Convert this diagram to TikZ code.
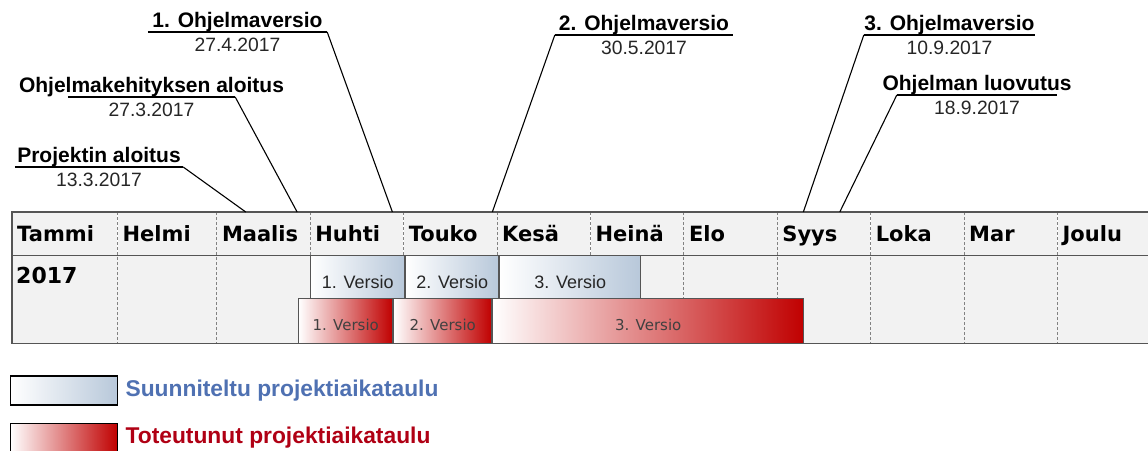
\documentclass[tikz,border=0pt]{standalone}
\usepackage{fontspec}
\setmainfont{Liberation Sans}
\newfontfamily\monthfont{DejaVu Sans}
\usetikzlibrary{positioning, calc}
\definecolor{cellgray}{RGB}{242,242,242}
\definecolor{gridgray}{RGB}{85,85,85}
\definecolor{sepgray}{RGB}{130,130,130}
\definecolor{planblue}{RGB}{184,200,218}
\definecolor{donered}{RGB}{192,0,0}
\definecolor{plantext}{RGB}{79,113,178}
\definecolor{donetext}{RGB}{176,0,20}

\begin{document}
\begin{tikzpicture}[x=1pt, y=1pt,
  month/.style={fill=cellgray, text width=#1, minimum height=43pt, inner xsep=5pt, inner ysep=0pt, text height=15.5pt, text depth=0pt, align=left, font=\monthfont\bfseries\fontsize{21}{21}\selectfont},
  monthsep/.style={sepgray, line width=.8pt, dash pattern=on 3pt off 2pt},
  planbar/.style={draw=gridgray, line width=1pt, left color=white, right color=planblue, minimum width=#1, minimum height=43pt, inner sep=0pt, text height=22pt, text depth=0pt, text=black!85, font=\fontsize{18}{18}\selectfont},
  donebar/.style={draw=gridgray, line width=1pt, left color=white, right color=donered, minimum width=#1, minimum height=45pt, inner sep=0pt, text height=19pt, text depth=0pt, text=black!75, font=\monthfont\fontsize{15}{15}\selectfont},
  msdate/.style={anchor=north, inner xsep=0pt, inner ysep=5pt, text height=14pt, text depth=0pt, text=black!85, font=\fontsize{19.3}{19.3}\selectfont},
  mstitle/.style={inner sep=0pt, font=\bfseries\fontsize{21}{21}\selectfont},
  leaderline/.style={line width=1.1pt},
  legbox/.style={draw=black, line width=1.4pt, minimum width=107pt, minimum height=29pt, inner sep=0pt},
  legtext/.style={inner sep=0pt, font=\bfseries\fontsize{22.8}{22.8}\selectfont}]

\useasboundingbox (0,0) rectangle (1148,-450);

\newcommand*{\milestone}[5]{%
  \node [msdate, minimum width=#3] (#1) at (#2) {#5};
  \draw [leaderline] (#1.north west) -- (#1.north east);
  \node [mstitle, above=5pt of #1.north, anchor=base] (#1title) {#4};}

% MONTHS

\node [month=95pt, anchor=north west] (tammi) at (12,-212) {Tammi};
\node [month=89pt, right=0pt of tammi] (helmi) {Helmi};
\foreach \prev/\name/\lbl in {helmi/maalis/Maalis, maalis/huhti/Huhti, huhti/touko/Touko,
    touko/kesa/Kesä, kesa/heina/Heinä, heina/elo/Elo, elo/syys/Syys, syys/loka/Loka,
    loka/mar/Mar, mar/joulu/Joulu}
  \node [month=83pt, right=0pt of \prev] (\name) {\lbl};

\coordinate (rowstart) at ($(tammi.south west)+(0,-88)$);
\coordinate (rowend) at ($(joulu.south east)+(0,-88)$);
\fill [cellgray] (tammi.south west) rectangle (rowend);

\node [anchor=base west, inner sep=0pt, font=\monthfont\bfseries\fontsize{22}{22}\selectfont] (year) at ($(tammi.south west)+(4,-28)$) {2017};

\foreach \name in {helmi, maalis, huhti, touko, kesa, heina, elo, syys, loka, mar, joulu}
  \draw [monthsep] (\name.north west) -- (\name.north west |- rowend);

% PLANNED AND ACTUAL VERSIONS

\node [planbar=94pt, below=0pt of huhti.south west, anchor=north west] (plan1) {1. Versio};
\node [planbar=93pt, right=0pt of plan1] (plan2) {2. Versio};
\node [planbar=141pt, right=0pt of plan2] (plan3) {3. Versio};

\node [donebar=94pt, below=43pt of huhti.south west, anchor=north west, xshift=-12pt] (done1) {1. Versio};
\node [donebar=98pt, right=0pt of done1] (done2) {2. Versio};
\node [donebar=311pt, right=0pt of done2] (done3) {3. Versio};

\draw [gridgray, line width=1.5pt] (tammi.north west) rectangle (rowend);
\draw [gridgray, line width=1.5pt] (tammi.south west) -- (joulu.south east);

% MILESTONES

\milestone{pa}{99,-167}{168pt}{Projektin aloitus}{13.3.2017}
\milestone{ok}{151.5,-97}{167pt}{Ohjelmakehityksen aloitus}{27.3.2017}
\milestone{ov1}{237.5,-32}{179pt}{1. Ohjelmaversio}{27.4.2017}
\milestone{ov2}{644,-35}{178pt}{2. Ohjelmaversio}{30.5.2017}
\milestone{ov3}{949.5,-35}{171pt}{3. Ohjelmaversio}{10.9.2017}
\milestone{ol}{977,-95}{160pt}{Ohjelman luovutus}{18.9.2017}

\coordinate (paend)  at ($(maalis.north west)!.31!(maalis.north east)$);
\coordinate (okend)  at ($(maalis.north west)!.86!(maalis.north east)$);
\coordinate (ov1end) at ($(huhti.north west)!.88!(huhti.north east)$);
\coordinate (ov2end) at ($(touko.north west)!.95!(touko.north east)$);
\coordinate (ov3end) at ($(syys.north west)!.28!(syys.north east)$);
\coordinate (olend)  at ($(syys.north west)!.67!(syys.north east)$);

\draw [leaderline] (pa.north east) -- (paend);
\draw [leaderline] (ok.north east) -- (okend);
\draw [leaderline] (ov1.north east) -- (ov1end);
\draw [leaderline] (ov2.north west) -- (ov2end);
\draw [leaderline] (ov3.north west) -- (ov3end);
\draw [leaderline] (ol.north west) -- (olend);

% LEGEND

\node [legbox, left color=white, right color=planblue, below=32pt of rowstart, anchor=north west, xshift=-2pt] (legplan) {};
\node [legtext, text=plantext, right=7pt of legplan] (legplantext) {Suunniteltu projektiaikataulu};
\node [legbox, left color=white, right color=donered, below=17pt of legplan.south west, anchor=north west] (legdone) {};
\node [legtext, text=donetext, right=7pt of legdone] (legdonetext) {Toteutunut projektiaikataulu};

\end{tikzpicture}
\end{document}
